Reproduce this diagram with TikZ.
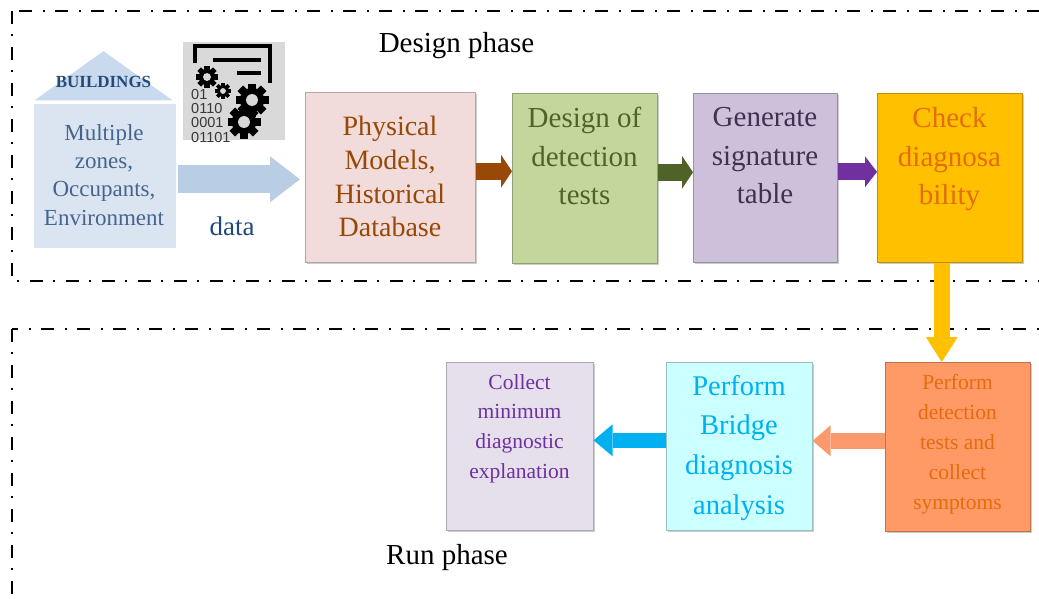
\documentclass[tikz,border=0pt]{standalone}
\usepackage{fontspec}
\setmainfont{Liberation Serif}
\newfontfamily\binfont{Liberation Sans}
\usetikzlibrary{arrows.meta,calc,shadows}
\definecolor{iconbg}{HTML}{D9D9D9}
\definecolor{houseFill}{HTML}{DBE5F1}
\definecolor{roofFill}{HTML}{C9DAEE}
\definecolor{houseTxt}{HTML}{46658E}
\definecolor{bldTxt}{HTML}{244A78}
\definecolor{dataA}{HTML}{B9CDE5}
\definecolor{dataTxt}{HTML}{1F497D}
\definecolor{physFill}{HTML}{F2DCDB}
\definecolor{physTxt}{HTML}{974806}
\definecolor{desFill}{HTML}{C3D69B}
\definecolor{desTxt}{HTML}{4F6228}
\definecolor{genFill}{HTML}{CCC0DA}
\definecolor{genTxt}{HTML}{403151}
\definecolor{chkFill}{HTML}{FFC000}
\definecolor{orTxt}{HTML}{E46C0A}
\definecolor{colFill}{HTML}{E5E0EC}
\definecolor{colTxt}{HTML}{7030A0}
\definecolor{briFill}{HTML}{CCFFFF}
\definecolor{briTxt}{HTML}{00B0F0}
\definecolor{detFill}{HTML}{FF9966}
\definecolor{brownA}{HTML}{984807}
\definecolor{greenA}{HTML}{4F6228}
\definecolor{purpleA}{HTML}{7030A0}
\definecolor{yellowA}{HTML}{FFC000}
\definecolor{orangeA}{HTML}{FA9A6C}
\definecolor{blueA}{HTML}{00B0F0}
\begin{document}
\begin{tikzpicture}[x=1pt,y=-1pt,
  frame/.style={line width=2pt, dash pattern=on 13pt off 10pt on 2pt off 11pt},
  box/.style={fill=#1, draw=#1!75!black, line width=0.6pt, inner sep=0pt, anchor=north west,
    drop shadow={shadow xshift=2pt, shadow yshift=-2pt, opacity=0.2, fill=black}},
  txt/.style={anchor=north, align=center, inner sep=0pt},
  barr/.style n args={4}{line width=#1, color=#4, -{Triangle[width=#2, length=#3, line width=0pt]}},
  binary/.style={anchor=base west, inner sep=0pt, text=black!78, font=\binfont\fontsize{14.5}{15}\selectfont},
  gear/.pic={
    \fill[black] (0,0) circle (0.74);
    \foreach \a in {0,45,...,315} \fill[black, rotate=\a] (-0.24,0.5) rectangle (0.24,1);
    \fill[iconbg] (0,0) circle (0.36);
  }
]
\useasboundingbox (0,0) rectangle (1039,598);
\begin{scope}
  \clip (0,0) rectangle (1039,598);
  \draw[frame] (12,11) rectangle (1120,281);
  \draw[frame] (12,329) rectangle (1120,700);
\end{scope}

% phase labels
\node[anchor=base, inner sep=0pt, font=\fontsize{29}{34}\selectfont] (dphase) at (456.5,52) {Design phase};
\node[anchor=base, inner sep=0pt, font=\fontsize{29}{34}\selectfont] (rphase) at (447,564) {Run phase};

% house
\fill[black, opacity=0.12] (34,104) rectangle (178,250);
\node[fill=houseFill, draw=white, line width=2pt, minimum width=144pt, minimum height=146pt,
  anchor=north west, inner sep=0pt] (house) at (32,102) {};
\fill[roofFill, draw=white, line width=1.5pt] (32,101) -- (103.5,50) -- (175,101) -- cycle;
\node[anchor=base, inner sep=0pt, text=bldTxt, font=\bfseries\fontsize{17}{20}\selectfont] (bld) at (103.5,87) {BUILDINGS};
\node[txt, text=houseTxt, font=\fontsize{23}{28.3}\selectfont] (houseT) at (104,124)
  {Multiple\\zones,\\Occupants,\\Environment};

% icon
\fill[iconbg] (183,42) rectangle (285,140);
\draw[line width=4pt] (195,63) -- (195,46) -- (270,46) -- (270,83);
\draw[line width=4pt] (213,60) -- (261,60);
\draw[line width=4pt] (237,73) -- (261,73);
\node[binary] (b1) at (191,99) {01};
\node[binary] (b2) at (191,113.3) {0110};
\node[binary] (b3) at (191,127.6) {0001};
\node[binary] (b4) at (191,142) {01101};
\pic[scale=11] at (207,77) {gear};
\pic[scale=8] at (223,91) {gear};
\pic[scale=16.5] at (252,100) {gear};
\pic[scale=16.5] at (244,122) {gear};

% data label
\node[anchor=base, inner sep=0pt, text=dataTxt, font=\fontsize{27}{30}\selectfont] (data) at (232,235) {data};

% design row boxes
\node[box=physFill, minimum width=170pt, minimum height=170pt] (phys) at (305,92) {};
\node[txt, text=physTxt, font=\fontsize{28}{33.7}\selectfont] (physT) at (390,116)
  {Physical\\Models,\\Historical\\Database};
\node[box=desFill, minimum width=145pt, minimum height=170pt] (design) at (512,93) {};
\node[txt, text=desTxt, font=\fontsize{29}{38.5}\selectfont] (designT) at (584.5,107)
  {Design of\\detection\\tests};
\node[box=genFill, minimum width=144pt, minimum height=169pt] (gen) at (693,93) {};
\node[txt, text=genTxt, font=\fontsize{29}{38.5}\selectfont] (genT) at (765,107.5)
  {Generate\\signature\\table};
\node[box=chkFill, minimum width=145pt, minimum height=169pt] (check) at (877,93) {};
\node[txt, text=orTxt, font=\fontsize{29}{38.5}\selectfont] (checkT) at (949.5,107.5)
  {Check\\diagnosa\\bility};

% run row boxes
\node[box=colFill, minimum width=147pt, minimum height=168pt] (collect) at (446,362) {};
\node[txt, text=colTxt, font=\fontsize{21.5}{29.7}\selectfont] (collectT) at (519.5,374)
  {Collect\\minimum\\diagnostic\\explanation};
\node[box=briFill, minimum width=146pt, minimum height=168pt] (bridge) at (666,362) {};
\node[txt, text=briTxt, font=\fontsize{28.5}{39.7}\selectfont] (bridgeT) at (739,375)
  {Perform\\Bridge\\diagnosis\\analysis};
\node[box=detFill, minimum width=145pt, minimum height=169pt] (detect) at (885,362) {};
\node[txt, text=orTxt, font=\fontsize{21.5}{30}\selectfont] (detectT) at (957.5,374.5)
  {Perform\\detection\\tests and\\collect\\symptoms};

% arrows
\draw[barr={28pt}{46pt}{30pt}{dataA}] ($(house.east |- phys.west)+(0,2)$) -- ($(phys.west)+(-5,2)$);
\draw[barr={17pt}{33pt}{11pt}{brownA}] ($(phys.east)+(0,-6)$) -- ($(phys.east -| design.west)+(0,-6)$);
\draw[barr={17pt}{33pt}{11pt}{greenA}] ($(design.east)+(0,-6)$) -- ($(design.east -| gen.west)+(0,-6)$);
\draw[barr={17pt}{31pt}{12pt}{purpleA}] ($(gen.east)+(0,-6)$) -- ($(gen.east -| check.west)+(0,-6)$);
\draw[barr={16pt}{32pt}{25pt}{yellowA}] ($(check.south)+(-8,0)$) -- ($(check.south |- detect.north)+(-8,0)$);
\draw[barr={16pt}{31pt}{18pt}{orangeA}] ($(detect.west)+(0,-6)$) -- ($(detect.west -| bridge.east)+(0,-6)$);
\draw[barr={15pt}{32pt}{19pt}{blueA}] ($(bridge.west)+(0,-6)$) -- ($(bridge.west -| collect.east)+(0,-6)$);
\end{tikzpicture}
\end{document}
